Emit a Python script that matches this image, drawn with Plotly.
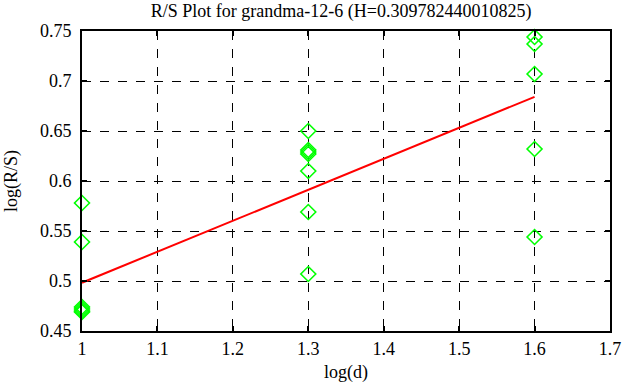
import plotly.graph_objects as go

# Data
x_d1 = [1.0, 1.0, 1.0, 1.0, 1.0, 1.0]
y_d1 = [0.578, 0.539, 0.474, 0.472, 0.470, 0.469]
x_d2 = [1.3, 1.3, 1.3, 1.3, 1.3, 1.3, 1.3]
y_d2 = [0.650, 0.631, 0.629, 0.627, 0.610, 0.569, 0.507]
x_d3 = [1.6, 1.6, 1.6, 1.6, 1.6]
y_d3 = [0.744, 0.737, 0.707, 0.632, 0.544]
fit_x = [1.0, 1.6]
fit_y = [0.4983, 0.6842]

x_ticks = [1, 1.1, 1.2, 1.3, 1.4, 1.5, 1.6, 1.7]
x_labels = ["1", "1.1", "1.2", "1.3", "1.4", "1.5", "1.6", "1.7"]
y_ticks = [0.45, 0.5, 0.55, 0.6, 0.65, 0.7, 0.75]
y_labels = ["0.45", "0.5", "0.55", "0.6", "0.65", "0.7", "0.75"]

title = "R/S Plot for grandma-12-6 (H=0.309782440010825)"

xs = x_d1 + x_d2 + x_d3
ys = y_d1 + y_d2 + y_d3

fig = go.Figure()
fig.add_trace(go.Scatter(
    x=xs, y=ys, mode="markers",
    marker=dict(symbol="diamond-open", size=11.5, color="#00ff00",
                line=dict(width=1.6, color="#00ff00")),
    cliponaxis=False, showlegend=False))
fig.add_trace(go.Scatter(
    x=fit_x, y=fit_y, mode="lines",
    line=dict(color="#ff0000", width=2), showlegend=False))

font = dict(family="Liberation Serif", color="black")

axis_common = dict(
    showline=True, linecolor="black", linewidth=2, mirror="ticks",
    ticks="inside", ticklen=5, tickwidth=1.5, tickcolor="black",
    showgrid=True, gridcolor="black", gridwidth=1, griddash="dash",
    zeroline=False, automargin=False, tickfont=dict(size=18, **font))

fig.update_xaxes(range=[1, 1.7], tickvals=x_ticks, ticktext=x_labels,
                 title=dict(text="log(d)", font=dict(size=18, **font), standoff=8),
                 **axis_common)
fig.update_yaxes(range=[0.45, 0.75], tickvals=y_ticks, ticktext=y_labels,
                 ticklabelstandoff=5,
                 title=dict(text="log(R/S)", font=dict(size=18, **font), standoff=18),
                 **axis_common)

fig.update_layout(
    width=626, height=387,
    margin=dict(l=82, r=16, t=31, b=56),
    paper_bgcolor="white", plot_bgcolor="white",
    title=dict(text=title, x=0.545, xanchor="center", y=0.988, yanchor="top",
               font=dict(size=18, **font)),
    font=font)

fig.write_html("out.html", config={"displayModeBar": False},
               post_script="document.body.style.margin='0px';")
